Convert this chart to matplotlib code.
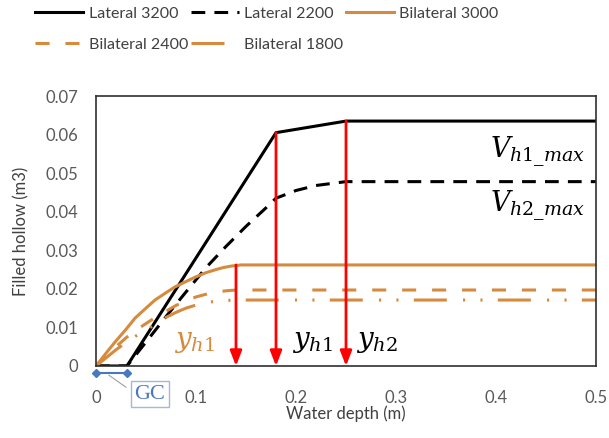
import matplotlib
matplotlib.use("Agg")
import matplotlib.pyplot as plt

plt.rcParams["font.family"] = ["Lato", "DejaVu Sans"]
plt.rcParams["mathtext.fontset"] = "dejavuserif"

# ---------------------------------------------------------------------------
# Data
# ---------------------------------------------------------------------------
lat3200_x = [0, 0.031, 0.18, 0.25, 0.5]
lat3200_y = [0, 0, 0.0605, 0.0635, 0.0635]

lat2200_x = [0, 0.031, 0.05, 0.07, 0.09, 0.11, 0.13, 0.15, 0.17, 0.18, 0.20,
             0.22, 0.25, 0.5]
lat2200_y = [0, 0, 0.0062, 0.0128, 0.0192, 0.0255, 0.031, 0.0362, 0.041,
             0.0435, 0.0455, 0.0468, 0.0478, 0.0478]

bi3000_x = [0, 0.01, 0.019, 0.03, 0.039, 0.05, 0.059, 0.07, 0.079, 0.09,
            0.099, 0.11, 0.12, 0.127, 0.135, 0.145, 0.5]
bi3000_y = [0, 0.0033, 0.0062, 0.0095, 0.0124, 0.015, 0.0171, 0.019, 0.0205,
            0.0219, 0.023, 0.0242, 0.025, 0.0255, 0.0259, 0.0262, 0.0262]

bi2400_x = [0, 0.01, 0.02, 0.03, 0.04, 0.05, 0.06, 0.07, 0.08, 0.09, 0.10,
            0.11, 0.12, 0.13, 0.14, 0.5]
bi2400_y = [0, 0.0025, 0.005, 0.0073, 0.0093, 0.011, 0.0127, 0.0142, 0.0157,
            0.0169, 0.0179, 0.0186, 0.0191, 0.0195, 0.0197, 0.0197]

bi1800_x = [0, 0.01, 0.02, 0.03, 0.04, 0.05, 0.06, 0.07, 0.08, 0.09, 0.10,
            0.11, 0.12, 0.13, 0.14, 0.5]
bi1800_y = [0, 0.0021, 0.0042, 0.0061, 0.0078, 0.0093, 0.0109, 0.0126, 0.0139,
            0.015, 0.0158, 0.0164, 0.0168, 0.017, 0.0171, 0.0171]

arrow_x = [0.14, 0.18, 0.25]
arrow_top = [0.0262, 0.0605, 0.0635]

gc_end = 0.031

x_ticks = [0, 0.1, 0.2, 0.3, 0.4, 0.5]
x_ticklabels = ["0", "0.1", "0.2", "0.3", "0.4", "0.5"]
y_ticks = [0, 0.01, 0.02, 0.03, 0.04, 0.05, 0.06, 0.07]
y_ticklabels = ["0", "0.01", "0.02", "0.03", "0.04", "0.05", "0.06", "0.07"]

ORANGE = "#D68A3E"
RED = "#FF0000"
BLUE = "#4A78C0"

# ---------------------------------------------------------------------------
# Plot
# ---------------------------------------------------------------------------
fig = plt.figure(figsize=(6.09, 4.38), dpi=100)
ax = fig.add_axes([0.1576, 0.1644, 0.8211, 0.6164])

lw = 2.2
l1, = ax.plot(lat3200_x, lat3200_y, color="black", lw=lw, label="Lateral 3200")
l2, = ax.plot(lat2200_x, lat2200_y, color="black", lw=lw, ls=(0, (4.5, 3)),
              label="Lateral 2200")
l3, = ax.plot(bi3000_x, bi3000_y, color=ORANGE, lw=lw, label="Bilateral 3000")
l4, = ax.plot(bi2400_x, bi2400_y, color=ORANGE, lw=lw, ls=(0, (4.6, 5.2)),
              label="Bilateral 2400")
l5, = ax.plot(bi1800_x, bi1800_y, color=ORANGE, lw=lw,
              ls=(0, (10.8, 5.3, 0.7, 5.0, 0.7, 5.0)), label="Bilateral 1800")

# red arrows
for xa, ya in zip(arrow_x, arrow_top):
    ax.annotate("", xy=(xa, 0), xytext=(xa, ya),
                arrowprops=dict(arrowstyle="-|>,head_length=0.9,head_width=0.35",
                                color=RED, lw=2.0, shrinkA=0, shrinkB=0))

# text labels
ax.text(0.489, 0.0555, r"$V_{h1\_max}$", fontsize=19.5, ha="right", va="center")
ax.text(0.489, 0.0415, r"$V_{h2\_max}$", fontsize=19.5, ha="right", va="center")
ax.text(0.078, 0.0062, r"$y_{h1}$", fontsize=20, color=ORANGE, ha="left", va="center")
ax.text(0.196, 0.0062, r"$y_{h1}$", fontsize=20, ha="left", va="center")
ax.text(0.260, 0.0062, r"$y_{h2}$", fontsize=20, ha="left", va="center")

# GC marker below the axis
ax.plot([0, gc_end], [-0.0019, -0.0019], color=BLUE, lw=1.5, marker="D",
        markersize=4, clip_on=False, zorder=5)
ax.plot([0.013, 0.030], [-0.0024, -0.0055], color="#A0A0A0", lw=0.8,
        clip_on=False)
ax.text(0.054, -0.0073, "GC", fontsize=16, color=BLUE, family="Liberation Serif",
        ha="center", va="center",
        bbox=dict(boxstyle="square,pad=0.15", fc="white", ec="#A8B8D0", lw=1.0))

ax.set_xlim(0, 0.5)
ax.set_ylim(0, 0.07)
ax.set_xticks(x_ticks)
ax.set_xticklabels(x_ticklabels)
ax.set_yticks(y_ticks)
ax.set_yticklabels(y_ticklabels)
ax.tick_params(axis="both", length=0, labelsize=12, labelcolor="#595959")
ax.tick_params(axis="x", pad=17)
ax.tick_params(axis="y", pad=13)
for sp in ax.spines.values():
    sp.set_color("#303030")
    sp.set_linewidth(1.2)

ax.set_xlabel("Water depth (m)", fontsize=12, color="#404040", labelpad=0)
ax.set_ylabel("Filled hollow (m3)", fontsize=12, color="#404040", labelpad=11)

# legend filled column-wise, so order handles to read row by row
fig.legend([l1, l4, l2, l5, l3],
           ["Lateral 3200", "Bilateral 2400", "Lateral 2200",
            "Bilateral 1800", "Bilateral 3000"],
           loc="upper left", bbox_to_anchor=(0.058, 0.985), borderpad=0,
           borderaxespad=0, ncol=3, frameon=False, fontsize=11.5,
           handlelength=3.0, columnspacing=0.15, handletextpad=0.35,
           labelspacing=1.05, labelcolor="#404040")

fig.savefig("out.png", dpi=100)
